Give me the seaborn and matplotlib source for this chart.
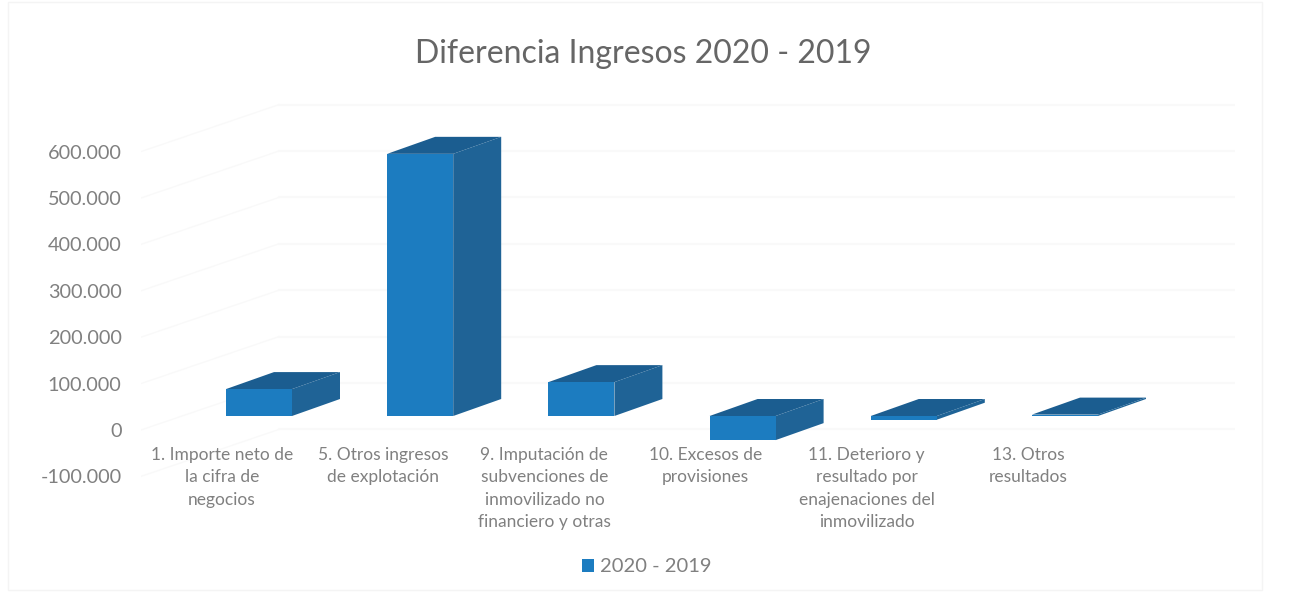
import matplotlib
matplotlib.use("Agg")
import matplotlib.pyplot as plt
from matplotlib.patches import Polygon, Rectangle
import pandas as pd
import seaborn as sns

# values
categories = [
    "1. Importe neto de\nla cifra de\nnegocios",
    "5. Otros ingresos\nde explotación",
    "9. Imputación de\nsubvenciones de\ninmovilizado no\nfinanciero y otras",
    "10. Excesos de\nprovisiones",
    "11. Deterioro y\nresultado por\nenajenaciones del\ninmovilizado",
    "13. Otros\nresultados",
]
values = [58000, 565000, 73000, -52000, -8000, 3000]
series_name = "2020 - 2019"
y_ticks = [-100000, 0, 100000, 200000, 300000, 400000, 500000, 600000]

FRONT = "#1c7cc0"
SIDE = "#1f6396"
TOP = "#1b5d90"
TEXT = "#808080"
GRID = "#f9f9f9"

W, H = 1292, 596
AX_L, AX_R, AX_T, AX_B = 141, 1235, 95, 480
CAT_PX = 161.2          # px between two categories
FIRST_BAR_PX = 259      # px of first bar centre
ZERO_PX = 416           # px of value 0 on the front plane
VAL_PX = 46.4 / 100000  # px per unit

# oblique projection, all in px
BAR_DX, BAR_DY = 48, 17
WALL_DX, WALL_DY = 138, 47
TICK_DROP = 14
LABEL_SHIFT = 37

sns.set_theme(style="white")
plt.rcParams["font.family"] = ["Lato", "DejaVu Sans"]

df = pd.DataFrame({"categoria": categories, "valor": values, "serie": series_name})

fig = plt.figure(figsize=(W / 100, H / 100), dpi=100)
fig.patches.append(Rectangle((8 / W, 1 - 590 / H), 1254 / W, 588 / H, transform=fig.transFigure,
                             facecolor="none", edgecolor="#f4f4f4", linewidth=1))
ax = fig.add_axes([AX_L / W, 1 - AX_B / H, (AX_R - AX_L) / W, (AX_B - AX_T) / H])
ax.patch.set_alpha(0)

sns.barplot(data=df, x="categoria", y="valor", hue="serie", palette=[FRONT],
            width=66 / CAT_PX, dodge=False, saturation=1, linewidth=0, ax=ax, zorder=4)

ax.set_xlim((AX_L - FIRST_BAR_PX) / CAT_PX, (AX_R - FIRST_BAR_PX) / CAT_PX)
ax.set_ylim((ZERO_PX - AX_B) / VAL_PX, (ZERO_PX - AX_T) / VAL_PX)

to_x = 1 / CAT_PX
to_y = 1 / VAL_PX

# faint walls behind the bars
xmin, xmax = ax.get_xlim()
for v in y_ticks:
    y0 = v - TICK_DROP * to_y
    ax.plot([xmin, xmin + WALL_DX * to_x], [y0, y0 + WALL_DY * to_y], color=GRID, lw=1, zorder=1)
    ax.plot([xmin + WALL_DX * to_x, xmax], [y0 + WALL_DY * to_y] * 2, color=GRID, lw=1.5, zorder=1)

# depth faces for each bar
dx, dy = BAR_DX * to_x, BAR_DY * to_y
for bar in ax.containers[0]:
    x0, x1 = bar.get_x(), bar.get_x() + bar.get_width()
    lo, hi = sorted([bar.get_y(), bar.get_y() + bar.get_height()])
    ax.add_patch(Polygon([(x1, lo), (x1 + dx, lo + dy), (x1 + dx, hi + dy), (x1, hi)],
                         facecolor=SIDE, edgecolor="none", zorder=3))
    ax.add_patch(Polygon([(x0, hi), (x0 + dx, hi + dy), (x1 + dx, hi + dy), (x1, hi)],
                         facecolor=TOP, edgecolor="none", zorder=3))

# axis text
ax.set_xlabel("")
ax.set_ylabel("")
ax.set_axisbelow(False)
ax.set_xticks([i - LABEL_SHIFT * to_x for i in range(len(categories))])
ax.set_xticklabels(categories, fontsize=12.5, color=TEXT, linespacing=1.5, va="top")
ax.set_yticks([v - TICK_DROP * to_y for v in y_ticks])
ax.set_yticklabels([f"{v:,}".replace(",", ".") for v in y_ticks], fontsize=14.3, color=TEXT)
ax.tick_params(axis="x", length=0, pad=-24)
ax.tick_params(axis="y", length=0, pad=14)
sns.despine(ax=ax, left=True, bottom=True)

fig.text(643 / W, 1 - 54 / H, "Diferencia Ingresos 2020 - 2019", ha="center", va="center",
         fontsize=23, color="#666666")

sns.move_legend(ax, "center", bbox_to_anchor=(647 / W, 1 - 567 / H), bbox_transform=fig.transFigure,
                title=None, frameon=False, fontsize=14.5, handlelength=0.6, handleheight=0.6,
                handletextpad=0.3, labelcolor=TEXT)

fig.savefig("out.png", dpi=100)
